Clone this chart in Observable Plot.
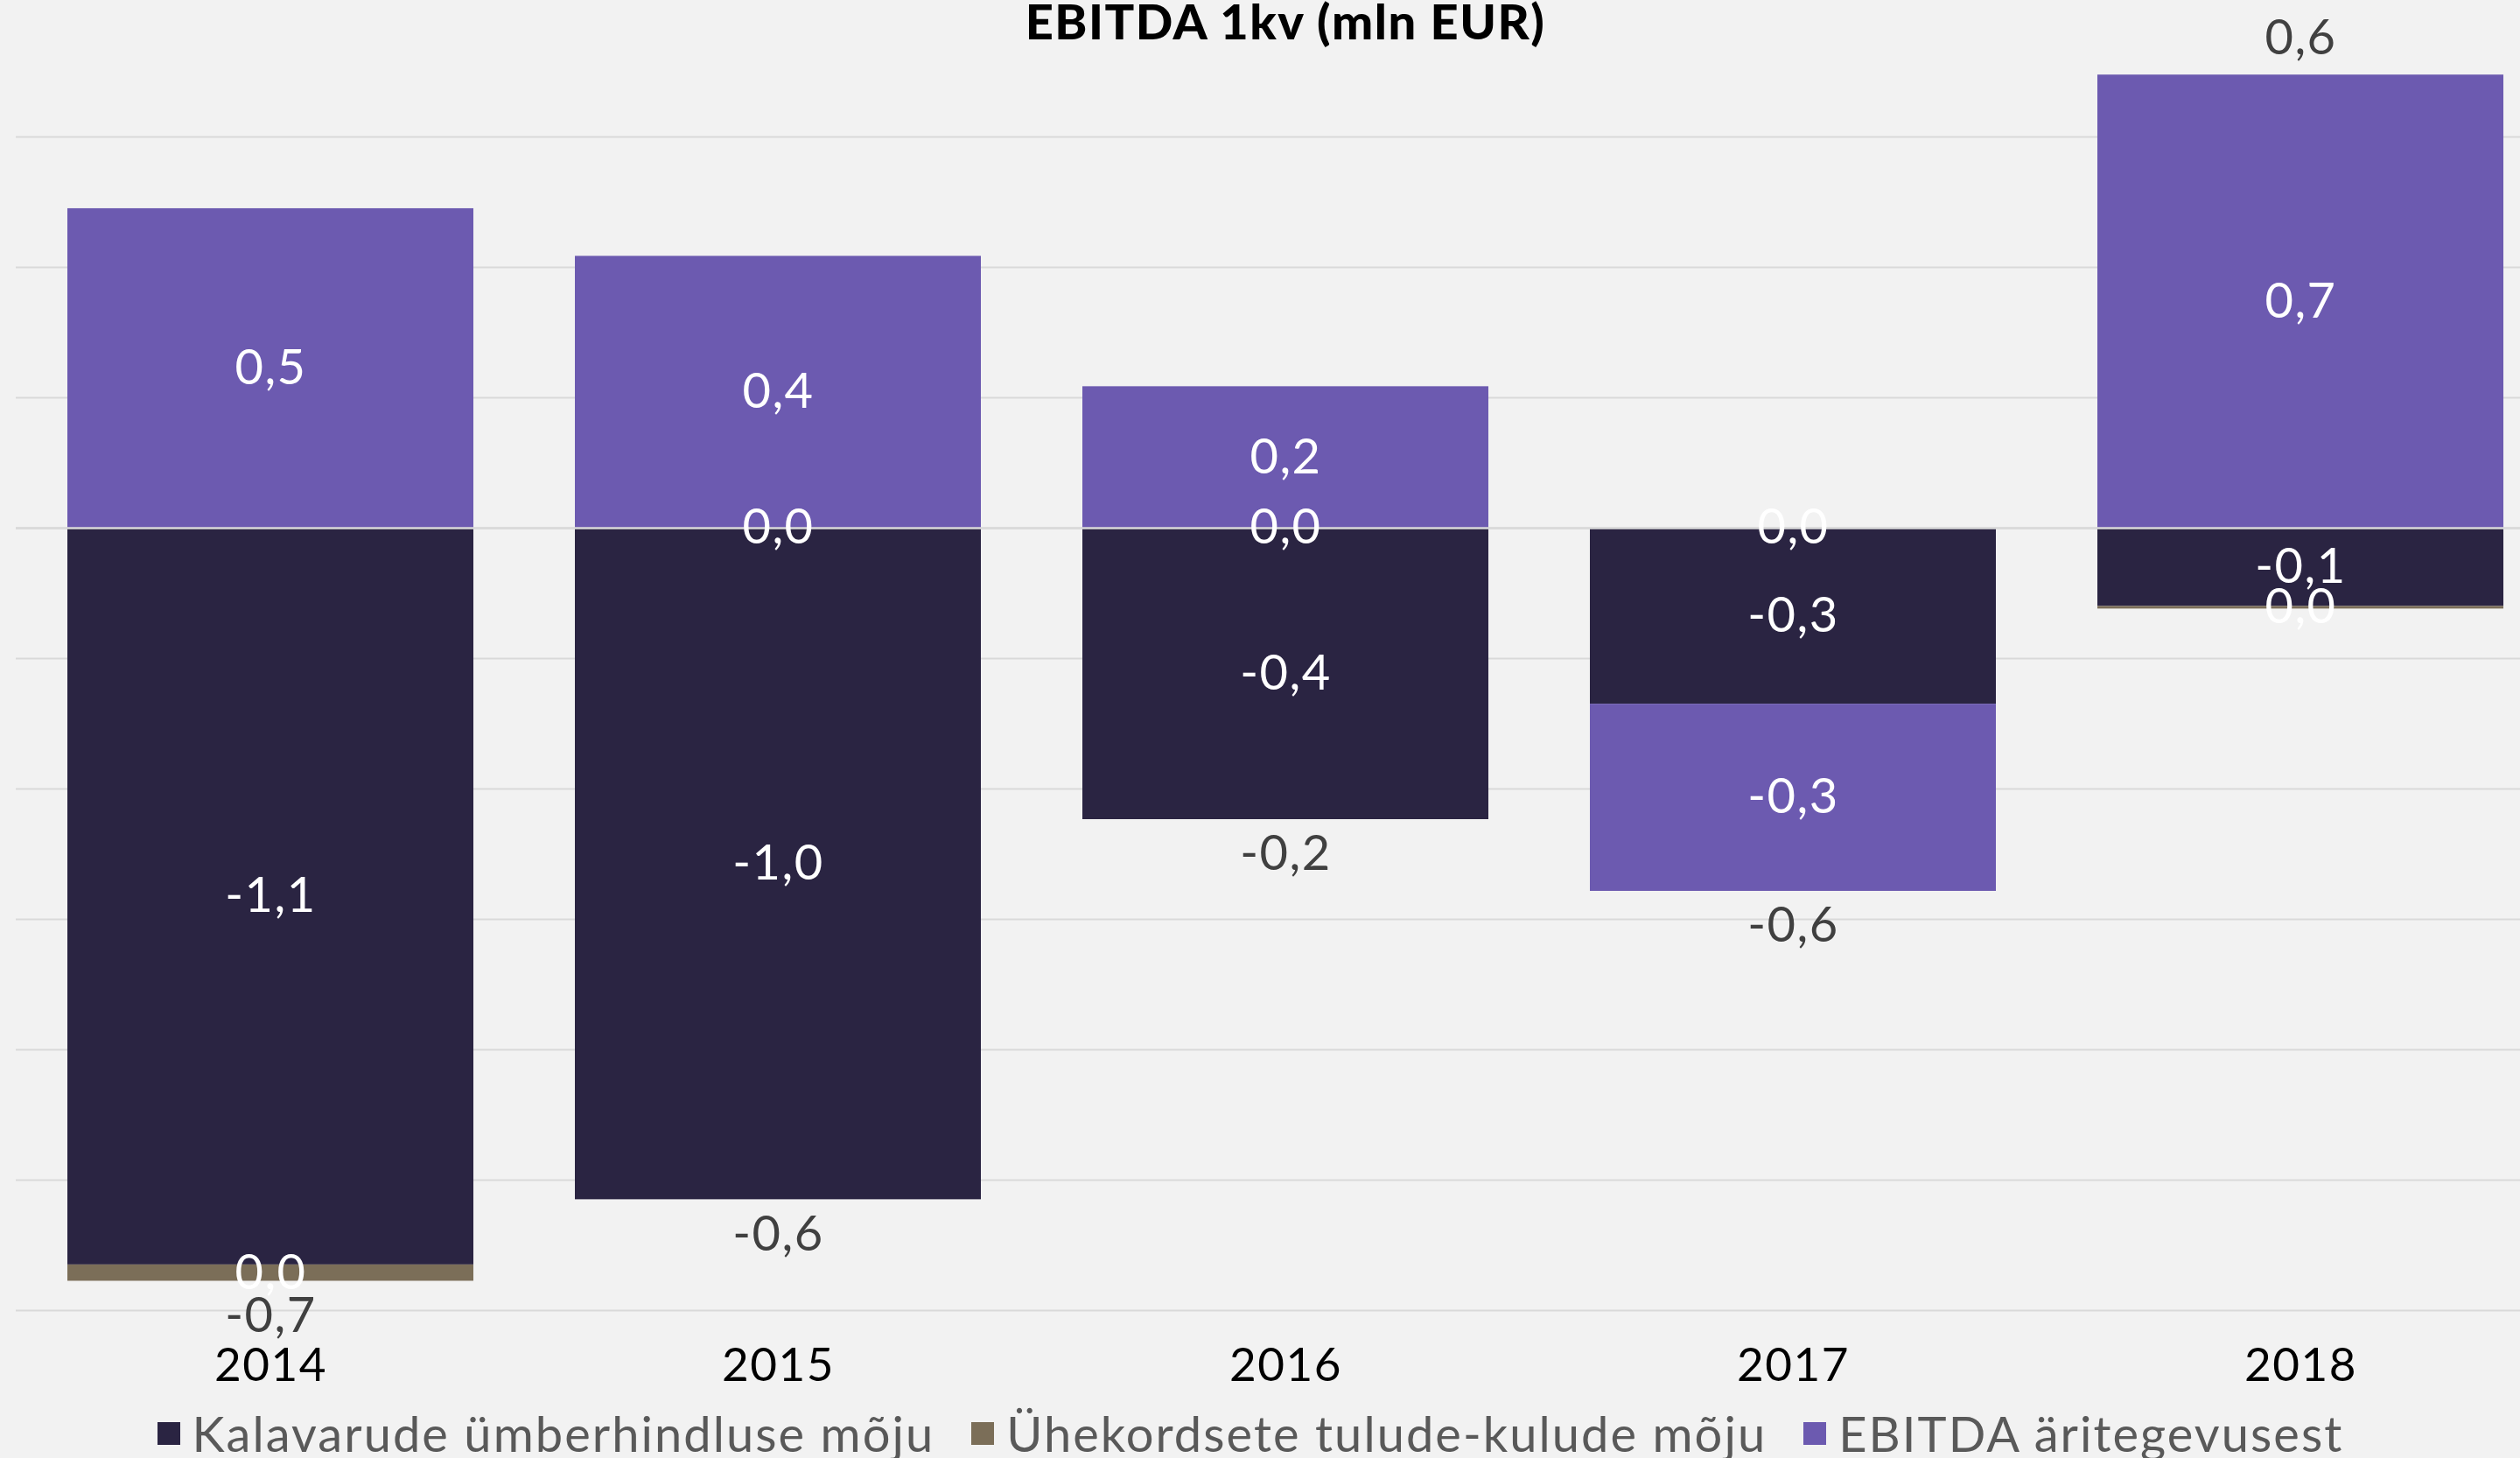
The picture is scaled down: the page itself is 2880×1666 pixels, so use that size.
<!DOCTYPE html>
<html><head><meta charset="utf-8">
<script src="https://cdn.jsdelivr.net/npm/d3@7"></script>
<script src="https://cdn.jsdelivr.net/npm/@observablehq/plot@0.6"></script>
<style>
html,body{margin:0;padding:0;background:#f2f2f2;width:2880px;height:1666px;overflow:hidden;font-family:Lato,"Noto Sans",sans-serif;}
#wrap{position:relative;width:2880px;height:1666px;}
#chart{position:absolute;left:0;top:0;}
#title{position:absolute;top:-4px;left:1469px;transform:translateX(-50%);font-size:56px;font-weight:900;letter-spacing:1.5px;line-height:1;white-space:nowrap;color:#000;}
#legend{position:absolute;top:1610px;left:0;width:2858px;height:56px;display:flex;justify-content:center;align-items:center;font-size:56px;letter-spacing:2.05px;line-height:1;color:#595959;font-weight:400;white-space:nowrap;}
.item{display:flex;align-items:center;margin:0 21px;}
.sw{width:26px;height:26px;margin-right:14px;flex:none;}
svg text{letter-spacing:1.5px;}
</style></head>
<body><div id="wrap"><div id="chart"></div><div id="title">EBITDA 1kv (mln EUR)</div><div id="legend"></div></div>
<script>
const years = ["2014", "2015", "2016", "2017", "2018"];
const seriesNames = ["Kalavarude ümberhindluse mõju", "Ühekordsete tulude-kulude mõju", "EBITDA äritegevusest"];
const kalavarude = [-1.13, -1.03, -0.447, -0.27, -0.12];
const uhekordsete = [-0.025, 0, 0, 0, -0.004];
const ebitda = [0.49, 0.417, 0.217, -0.287, 0.695];
const seriesColors = ["#2a2442", "#7b6e58", "#6c5ab0"];
const gridTicks = [-1.2, -1.0, -0.8, -0.6, -0.4, -0.2, 0, 0.2, 0.4, 0.6];

const seriesValues = [kalavarude, uhekordsete, ebitda];
const rows = years.flatMap((year, i) => seriesNames.map((series, j) => ({year, series, value: seriesValues[j][i]})));
const totals = years.map((year, i) => {
  const vals = seriesValues.map(s => s[i]);
  const total = d3.sum(vals);
  const edge = total >= 0 ? d3.sum(vals.filter(v => v > 0)) : d3.sum(vals.filter(v => v < 0));
  return {year, total, edge};
});

const fmt = d3.formatLocale({decimal: ",", thousands: " ", grouping: [3], currency: ["", "€"], minus: "-"}).format(".1f");

const chart = Plot.plot({
  width: 2880,
  height: 1597,
  marginTop: 7,
  marginBottom: 100,
  marginLeft: 18,
  marginRight: 0,
  style: {background: "transparent", fontFamily: "Lato, 'Noto Sans', sans-serif", overflow: "visible"},
  x: {domain: years, range: [77, 2861], paddingInner: 0.2, paddingOuter: 0, label: null},
  y: {domain: [-1.2, 0.8], axis: null},
  color: {domain: seriesNames, range: seriesColors},
  marks: [
    Plot.ruleY(gridTicks, {stroke: "#d9d9d9", strokeWidth: 2}),
    Plot.barY(rows, {x: "year", y: "value", z: "series", fill: "series"}),
    Plot.ruleY([0], {stroke: "#d9d9d9", strokeWidth: 2.5}),
    Plot.text(rows, Plot.stackY({x: "year", y: "value", z: "series", text: d => fmt(d.value), fill: "white", fontSize: 56, fontWeight: 400})),
    Plot.text(totals.filter(d => d.total < 0), {x: "year", y: "edge", text: d => fmt(d.total), dy: 40, fill: "#404040", fontSize: 56, fontWeight: 400}),
    Plot.text(totals.filter(d => d.total >= 0), {x: "year", y: "edge", text: d => fmt(d.total), dy: -42, fill: "#404040", fontSize: 56, fontWeight: 400}),
    Plot.axisX({tickSize: 0, tickPadding: 43, fontSize: 53, fill: "#000", label: null, fontWeight: 400})
  ]
});
document.getElementById("chart").appendChild(chart);

const legend = document.getElementById("legend");
seriesNames.forEach((name, i) => {
  const item = document.createElement("div");
  item.className = "item";
  const sw = document.createElement("span");
  sw.className = "sw";
  sw.style.background = seriesColors[i];
  const label = document.createElement("span");
  label.textContent = name;
  item.appendChild(sw);
  item.appendChild(label);
  legend.appendChild(item);
});
</script>
</body></html>
